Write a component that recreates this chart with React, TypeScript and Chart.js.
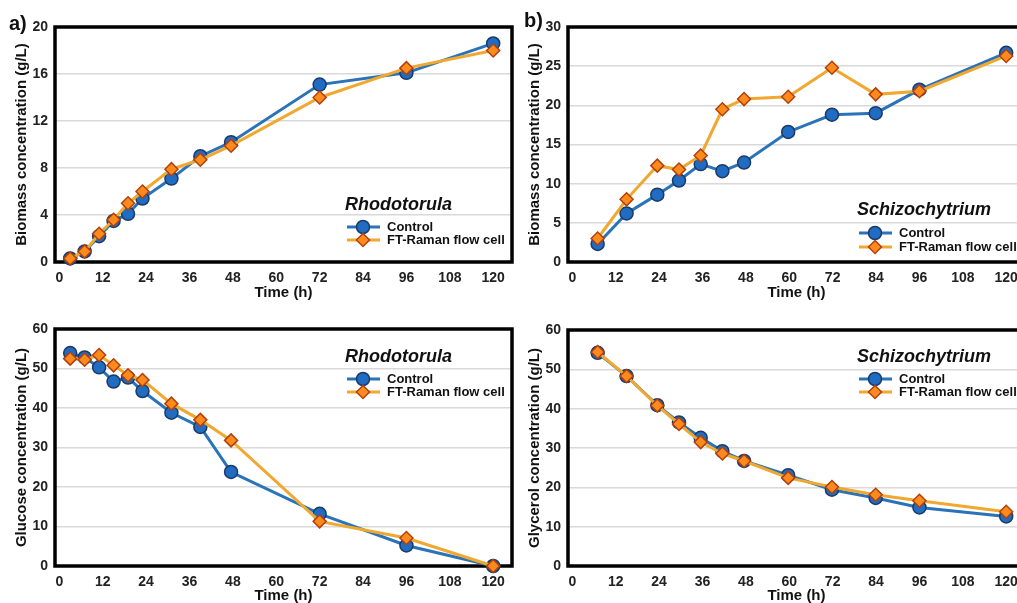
import React, { useEffect, useRef } from "react";
import { Chart, registerables } from "chart.js";

Chart.register(...registerables);

// ---------- data ----------
const xTickValues = [0, 12, 24, 36, 48, 60, 72, 84, 96, 108, 120];

const timesRhodo = [3, 7, 11, 15, 19, 23, 31, 39, 47.5, 72, 96, 120];
const biomassRhodoControl = [0.3, 0.9, 2.2, 3.5, 4.1, 5.4, 7.1, 9.0, 10.2, 15.1, 16.1, 18.6];
const biomassRhodoFT = [0.3, 0.9, 2.4, 3.6, 5.0, 6.0, 7.9, 8.7, 9.9, 14.0, 16.5, 18.0];
const glucoseRhodoControl = [53.9, 52.8, 50.3, 46.7, 47.7, 44.3, 38.8, 35.2, 23.8, 13.2, 5.2, 0];
const glucoseRhodoFT = [52.5, 52.2, 53.4, 50.8, 48.3, 47.1, 41.1, 37.0, 31.8, 11.3, 7.1, 0];

const timesSchizo = [7, 15, 23.5, 29.5, 35.5, 41.5, 47.5, 59.7, 71.8, 83.9, 96, 120];
const biomassSchizoControl = [2.3, 6.2, 8.6, 10.4, 12.5, 11.6, 12.7, 16.6, 18.8, 19.0, 22.0, 26.7];
const biomassSchizoFT = [3.0, 8.0, 12.3, 11.8, 13.6, 19.5, 20.8, 21.1, 24.8, 21.4, 21.8, 26.3];
const glycerolSchizoControl = [54.2, 48.3, 40.9, 36.5, 32.6, 29.2, 26.7, 23.1, 19.4, 17.3, 14.9, 12.6];
const glycerolSchizoFT = [54.4, 48.3, 40.8, 36.1, 31.5, 28.6, 26.7, 22.4, 20.1, 18.1, 16.6, 13.8];

const seriesNames = ["Control", "FT-Raman flow cell"];
const xTitle = "Time (h)";

// ---------- styles ----------
const BLUE_LINE = "#2a73b8";
const BLUE_FILL = "#1f6cc2";
const BLUE_EDGE = "#1b3a66";
const ORANGE_LINE = "#f0a830";
const ORANGE_FILL = "#ff8a1c";
const ORANGE_EDGE = "#b0400e";
const TICK_FONT = '"Liberation Sans Narrow", "Liberation Sans", Arial, sans-serif';
const TEXT_FONT = '"Liberation Sans", Arial, sans-serif';

type PanelProps = {
  left: number;
  top: number;
  W: number;
  H: number;
  area: { l: number; t: number; r: number; b: number };
  times: number[];
  control: number[];
  ft: number[];
  yMax: number;
  yStep: number;
  yTitle: string;
  species: string;
  legend: { x: number; titleY: number; y1: number; y2: number };
};

function drawCircle(ctx: CanvasRenderingContext2D, x: number, y: number) {
  ctx.beginPath();
  ctx.arc(x, y, 6.5, 0, Math.PI * 2);
  ctx.fillStyle = BLUE_FILL;
  ctx.fill();
  ctx.lineWidth = 1.5;
  ctx.strokeStyle = BLUE_EDGE;
  ctx.stroke();
}

function drawDiamond(ctx: CanvasRenderingContext2D, x: number, y: number) {
  const r = 6.5;
  ctx.beginPath();
  ctx.moveTo(x, y - r);
  ctx.lineTo(x + r, y);
  ctx.lineTo(x, y + r);
  ctx.lineTo(x - r, y);
  ctx.closePath();
  ctx.fillStyle = ORANGE_FILL;
  ctx.fill();
  ctx.lineWidth = 1.5;
  ctx.strokeStyle = ORANGE_EDGE;
  ctx.stroke();
}

function Panel(props: PanelProps) {
  const ref = useRef<HTMLCanvasElement>(null);

  useEffect(() => {
    const { W, H, area, times, control, ft, yMax, yStep, yTitle, species, legend } = props;
    const canvas = ref.current!;

    const framePlugin = {
      id: "frame",
      beforeDatasetsDraw(chart: any) {
        const { ctx, chartArea: a } = chart;
        ctx.save();
        ctx.lineWidth = 3.5;
        ctx.strokeStyle = "#000";
        ctx.strokeRect(a.left, a.top, a.right - a.left, a.bottom - a.top);
        ctx.restore();
      },
    };

    const legendPlugin = {
      id: "speciesLegend",
      afterDatasetsDraw(chart: any) {
        const ctx: CanvasRenderingContext2D = chart.ctx;
        ctx.save();
        ctx.fillStyle = "#111";
        ctx.textBaseline = "middle";
        ctx.textAlign = "left";
        ctx.font = `italic bold 18px ${TEXT_FONT}`;
        ctx.fillText(species, legend.x, legend.titleY);

        const lx1 = legend.x + 2;
        const lx2 = legend.x + 35;
        const mx = legend.x + 18;
        const tx = legend.x + 42;
        // Control
        ctx.lineWidth = 3;
        ctx.strokeStyle = BLUE_LINE;
        ctx.beginPath();
        ctx.moveTo(lx1, legend.y1);
        ctx.lineTo(lx2, legend.y1);
        ctx.stroke();
        drawCircle(ctx, mx, legend.y1);
        // FT
        ctx.lineWidth = 3;
        ctx.strokeStyle = ORANGE_LINE;
        ctx.beginPath();
        ctx.moveTo(lx1, legend.y2);
        ctx.lineTo(lx2, legend.y2);
        ctx.stroke();
        drawDiamond(ctx, mx, legend.y2);

        ctx.fillStyle = "#111";
        ctx.font = `bold 13px ${TEXT_FONT}`;
        ctx.fillText(seriesNames[0], tx, legend.y1);
        ctx.fillText(seriesNames[1], tx, legend.y2);
        ctx.restore();
      },
    };

    const chart = new Chart(canvas, {
      type: "line",
      data: {
        datasets: [
          {
            label: seriesNames[1],
            data: times.map((t, i) => ({ x: t, y: ft[i] })),
            order: 1,
            borderColor: ORANGE_LINE,
            borderWidth: 3,
            pointStyle: "rectRot",
            pointRadius: 6.5,
            pointBackgroundColor: ORANGE_FILL,
            pointBorderColor: ORANGE_EDGE,
            pointBorderWidth: 1.5,
            tension: 0,
            clip: false as any,
          },
          {
            label: seriesNames[0],
            data: times.map((t, i) => ({ x: t, y: control[i] })),
            order: 2,
            borderColor: BLUE_LINE,
            borderWidth: 3,
            pointStyle: "circle",
            pointRadius: 6.5,
            pointBackgroundColor: BLUE_FILL,
            pointBorderColor: BLUE_EDGE,
            pointBorderWidth: 1.5,
            tension: 0,
            clip: false as any,
          },
        ],
      },
      options: {
        responsive: false,
        animation: false,
        devicePixelRatio: 1,
        layout: { padding: { left: 0, top: area.t, right: W - area.r, bottom: 0 } },
        plugins: { legend: { display: false }, tooltip: { enabled: false } },
        scales: {
          x: {
            type: "linear",
            min: -1.2,
            max: 125.2,
            afterBuildTicks: (scale: any) => {
              scale.ticks = xTickValues.map((v) => ({ value: v }));
            },
            afterFit: (scale: any) => {
              scale.height = H - area.b;
            },
            grid: { display: false, drawTicks: false },
            border: { display: false },
            ticks: {
              padding: 8,
              color: "#222",
              font: { family: TICK_FONT, size: 14, weight: "bold" },
              maxRotation: 0,
              autoSkip: false,
            },
            title: {
              display: true,
              text: xTitle,
              color: "#111",
              font: { family: TEXT_FONT, size: 15, weight: "bold", lineHeight: 1 },
              padding: { top: 0, bottom: 0 },
            },
          },
          y: {
            type: "linear",
            min: 0,
            max: yMax,
            afterFit: (scale: any) => {
              scale.width = area.l;
            },
            grid: { color: "#d9d9d9", lineWidth: 1.5, drawTicks: false },
            border: { display: false },
            ticks: {
              stepSize: yStep,
              padding: 7,
              color: "#222",
              font: { family: TICK_FONT, size: 14, weight: "bold" },
            },
            title: {
              display: true,
              text: yTitle,
              color: "#111",
              font: { family: TEXT_FONT, size: 15, weight: "bold", lineHeight: 1 },
              padding: { top: 14, bottom: 0 },
            },
          },
        },
      } as any,
      plugins: [framePlugin, legendPlugin],
    });

    return () => chart.destroy();
  }, []);

  return (
    <canvas
      ref={ref}
      width={props.W}
      height={props.H}
      style={{ position: "absolute", left: props.left, top: props.top, width: props.W, height: props.H }}
    />
  );
}

const labelStyle: React.CSSProperties = {
  position: "absolute",
  font: `bold 20px ${TEXT_FONT}`,
  color: "#111",
  lineHeight: "20px",
};

export default function App() {
  return (
    <div
      style={{
        position: "fixed",
        left: 0,
        top: 0,
        width: 1017,
        height: 603,
        overflow: "hidden",
        background: "#fff",
      }}
    >
      <Panel
        left={0}
        top={0}
        W={520}
        H={300}
        area={{ l: 55, t: 27, r: 512, b: 262 }}
        times={timesRhodo}
        control={biomassRhodoControl}
        ft={biomassRhodoFT}
        yMax={20}
        yStep={4}
        yTitle="Biomass concentration (g/L)"
        species="Rhodotorula"
        legend={{ x: 345, titleY: 205, y1: 227, y2: 240 }}
      />
      <Panel
        left={513}
        top={0}
        W={530}
        H={300}
        area={{ l: 55, t: 27, r: 512, b: 262 }}
        times={timesSchizo}
        control={biomassSchizoControl}
        ft={biomassSchizoFT}
        yMax={30}
        yStep={5}
        yTitle="Biomass concentration (g/L)"
        species="Schizochytrium"
        legend={{ x: 344, titleY: 210, y1: 233, y2: 247 }}
      />
      <Panel
        left={0}
        top={300}
        W={520}
        H={303}
        area={{ l: 55, t: 29, r: 512, b: 266 }}
        times={timesRhodo}
        control={glucoseRhodoControl}
        ft={glucoseRhodoFT}
        yMax={60}
        yStep={10}
        yTitle="Glucose concentration (g/L)"
        species="Rhodotorula"
        legend={{ x: 345, titleY: 57, y1: 79, y2: 92 }}
      />
      <Panel
        left={513}
        top={300}
        W={530}
        H={303}
        area={{ l: 55, t: 30, r: 512, b: 266 }}
        times={timesSchizo}
        control={glycerolSchizoControl}
        ft={glycerolSchizoFT}
        yMax={60}
        yStep={10}
        yTitle="Glycerol concentration (g/L)"
        species="Schizochytrium"
        legend={{ x: 344, titleY: 57, y1: 79, y2: 92 }}
      />
      <div style={{ ...labelStyle, left: 9, top: 13 }}>a)</div>
      <div style={{ ...labelStyle, left: 524, top: 10 }}>b)</div>
    </div>
  );
}
